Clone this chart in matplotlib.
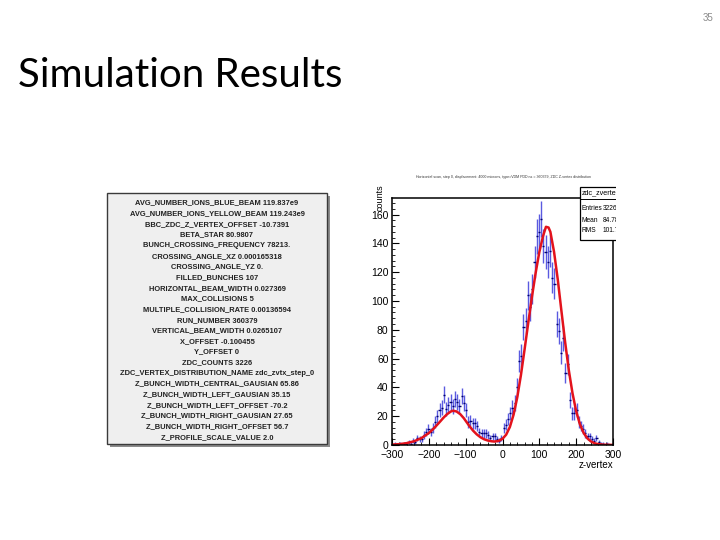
import numpy as np
import matplotlib
matplotlib.use("Agg")
import matplotlib.pyplot as plt
from matplotlib.patches import Rectangle
from matplotlib.ticker import AutoMinorLocator

# ---------------- data ----------------
param_lines = [
    "AVG_NUMBER_IONS_BLUE_BEAM 119.837e9",
    "AVG_NUMBER_IONS_YELLOW_BEAM 119.243e9",
    "BBC_ZDC_Z_VERTEX_OFFSET -10.7391",
    "BETA_STAR 80.9807",
    "BUNCH_CROSSING_FREQUENCY 78213.",
    "CROSSING_ANGLE_XZ 0.000165318",
    "CROSSING_ANGLE_YZ 0.",
    "FILLED_BUNCHES 107",
    "HORIZONTAL_BEAM_WIDTH 0.027369",
    "MAX_COLLISIONS 5",
    "MULTIPLE_COLLISION_RATE 0.00136594",
    "RUN_NUMBER 360379",
    "VERTICAL_BEAM_WIDTH 0.0265107",
    "X_OFFSET -0.100455",
    "Y_OFFSET 0",
    "ZDC_COUNTS 3226",
    "ZDC_VERTEX_DISTRIBUTION_NAME zdc_zvtx_step_0",
    "Z_BUNCH_WIDTH_CENTRAL_GAUSIAN 65.86",
    "Z_BUNCH_WIDTH_LEFT_GAUSIAN 35.15",
    "Z_BUNCH_WIDTH_LEFT_OFFSET -70.2",
    "Z_BUNCH_WIDTH_RIGHT_GAUSIAN 27.65",
    "Z_BUNCH_WIDTH_RIGHT_OFFSET 56.7",
    "Z_PROFILE_SCALE_VALUE 2.0",
]

bin_centers = [
    -297, -291, -285, -279, -273, -267, -261, -255, -249, -243,
    -237, -231, -225, -219, -213, -207, -201, -195, -189, -183,
    -177, -171, -165, -159, -153, -147, -141, -135, -129, -123,
    -117, -111, -105, -99, -93, -87, -81, -75, -69, -63,
    -57, -51, -45, -39, -33, -27, -21, -15, -9, -3,
    3, 9, 15, 21, 27, 33, 39, 45, 51, 57,
    63, 69, 75, 81, 87, 93, 99, 105, 111, 117,
    123, 129, 135, 141, 147, 153, 159, 165, 171, 177,
    183, 189, 195, 201, 207, 213, 219, 225, 231, 237,
    243, 249, 255, 261, 267, 273, 279, 285, 291, 297,
]
bin_counts = [
    0, 1, 0, 1, 0, 1, 1, 2, 1, 3,
    2, 5, 4, 4, 7, 9, 11, 9, 12, 16,
    20, 24, 26, 35, 25, 28, 30, 27, 32, 30,
    27, 34, 29, 24, 16, 17, 15, 15, 13, 9,
    8, 8, 8, 7, 5, 6, 6, 4, 3, 5,
    12, 14, 18, 22, 26, 29, 40, 58, 62, 82,
    86, 104, 96, 108, 127, 145, 148, 157, 138, 134,
    127, 135, 116, 112, 84, 79, 64, 74, 50, 56,
    31, 22, 22, 24, 16, 13, 11, 8, 6, 6,
    4, 3, 5, 2, 1, 1, 0, 1, 0, 0,
]

fit_x = [-300, -280, -260, -240, -220, -200, -190, -180, -170, -160,
         -150, -140, -134, -125, -115, -105, -100, -90, -80, -70,
         -60, -50, -40, -30, -22, -10, 0, 10, 20, 30,
         40, 50, 60, 70, 80, 90, 100, 110, 118, 125,
         130, 140, 150, 160, 170, 180, 190, 200, 210, 220,
         230, 240, 250, 260, 275, 300]
fit_y = [0.3, 0.6, 1.3, 2.6, 4.8, 8.3, 10.6, 13.3, 16.1, 19.0,
         21.5, 23.3, 23.8, 23.3, 21.5, 18.6, 16.8, 13.2, 10.0, 7.4,
         5.4, 4.0, 3.1, 2.6, 2.4, 2.9, 4.3, 7.2, 12.5, 21.0,
         33.0, 48.5, 66.5, 85.0, 103.0, 119.5, 134.0, 145.0, 151.5, 151.0,
         148.0, 134.0, 115.0, 93.0, 71.5, 52.0, 36.0, 23.5, 14.5, 8.5,
         4.7, 2.5, 1.2, 0.6, 0.2, 0.05]

x_ticks = [-300, -200, -100, 0, 100, 200, 300]
y_ticks = [0, 20, 40, 60, 80, 100, 120, 140, 160]

stats_name = "zdc_zvertex_dst"
stats_rows = [("Entries", "3226"), ("Mean", "84.78"), ("RMS", "101.7")]

# ---------------- figure ----------------
W, H = 720, 540
fig = plt.figure(figsize=(7.2, 5.4), dpi=100)
fig.patch.set_facecolor("white")


def fx(px):
    return px / W


def fy(py):
    return 1 - py / H


fig.text(fx(18), fy(87), "Simulation Results", fontsize=29, family="Lato",
         va="baseline", ha="left", color="black")
fig.text(fx(713), fy(18), "35", fontsize=7, color="#8a8a8a",
         ha="right", va="center", family="Liberation Sans")

# parameter box (overlay axes in pixel coordinates)
pax = fig.add_axes([0, 0, 1, 1], zorder=1)
pax.set_xlim(0, W)
pax.set_ylim(H, 0)
pax.axis("off")
pax.add_patch(Rectangle((110, 196), 220, 251, facecolor="#8c8c8c",
                        edgecolor="none"))
pax.add_patch(Rectangle((107, 193), 220, 251, facecolor="#efefef",
                        edgecolor="#3a3a3a", linewidth=1.0))
for i, line in enumerate(param_lines):
    pax.text(217, 203 + i * 10.65, line, ha="center", va="center",
             fontsize=5.4, weight="bold", family="Liberation Sans",
             color="#222222")

# histogram axes
x0, x1, ytop, ybot = 392, 613, 198, 445
ax = fig.add_axes([fx(x0), fy(ybot), (x1 - x0) / W, (ybot - ytop) / H],
                  zorder=2)
counts = np.array(bin_counts, dtype=float)
centers = np.array(bin_centers, dtype=float)
ax.errorbar(centers, counts, yerr=np.sqrt(counts), fmt="none",
            ecolor="#5a5ae0", elinewidth=1.0)
ax.errorbar(centers, counts, xerr=3, fmt="none",
            ecolor="#000070", elinewidth=1.0)
ax.plot(fit_x, fit_y, color="#e3121c", lw=1.8)
ax.set_xlim(-300, 300)
ax.set_ylim(0, 171.5)
ax.set_xticks(x_ticks)
ax.set_yticks(y_ticks)
ax.xaxis.set_minor_locator(AutoMinorLocator(5))
ax.yaxis.set_minor_locator(AutoMinorLocator(5))
ax.tick_params(which="both", direction="in", top=False, right=False,
               labelsize=7.5)
ax.tick_params(axis="x", pad=3.5)
ax.tick_params(axis="y", pad=2.5)
ax.tick_params(which="major", length=5, width=0.8)
ax.tick_params(which="minor", length=2.5, width=0.6)
for lab in ax.get_xticklabels() + ax.get_yticklabels():
    lab.set_family("Liberation Sans")
for s in ax.spines.values():
    s.set_linewidth(1.1)

# canvas overlay for ROOT decorations (clipped to the image area)
cx0, cx1, cy0, cy1 = 368, 616, 165, 472
cax = fig.add_axes([fx(cx0), fy(cy1), (cx1 - cx0) / W, (cy1 - cy0) / H],
                   zorder=3)
cax.set_xlim(cx0, cx1)
cax.set_ylim(cy1, cy0)
cax.axis("off")
cax.patch.set_alpha(0)
cax.add_patch(Rectangle((580, 187), 45, 53, facecolor="white",
                        edgecolor="black", linewidth=0.9, clip_on=True))
cax.plot([580, 625], [199, 199], color="black", lw=0.7, clip_on=True)
cax.text(582, 193, stats_name, fontsize=5.2, family="Liberation Sans",
         ha="left", va="center", clip_on=True)
for j, (k, v) in enumerate(stats_rows):
    yy = 209 + j * 11
    cax.text(582, yy, k, fontsize=4.8, family="Liberation Sans",
             ha="left", va="center", clip_on=True)
    cax.text(602.5, yy, v, fontsize=4.8, family="Liberation Sans",
             ha="left", va="center", clip_on=True)
cax.text(504, 177, "Horizontal scan, step 0, displacement: 4000 microns, type=VDM PDD ns = 360379, ZDC Z-vertex distribution",
         fontsize=2.6, ha="center", va="center", family="Liberation Sans",
         color="#333333", clip_on=True)
cax.text(380, 184, "counts", rotation=90, fontsize=6.5, ha="center", va="top",
         family="Liberation Sans", clip_on=True)
cax.text(613, 465, "z-vertex", fontsize=7, ha="right", va="center",
         family="Liberation Sans", clip_on=True)

fig.savefig("out.png", dpi=100)
